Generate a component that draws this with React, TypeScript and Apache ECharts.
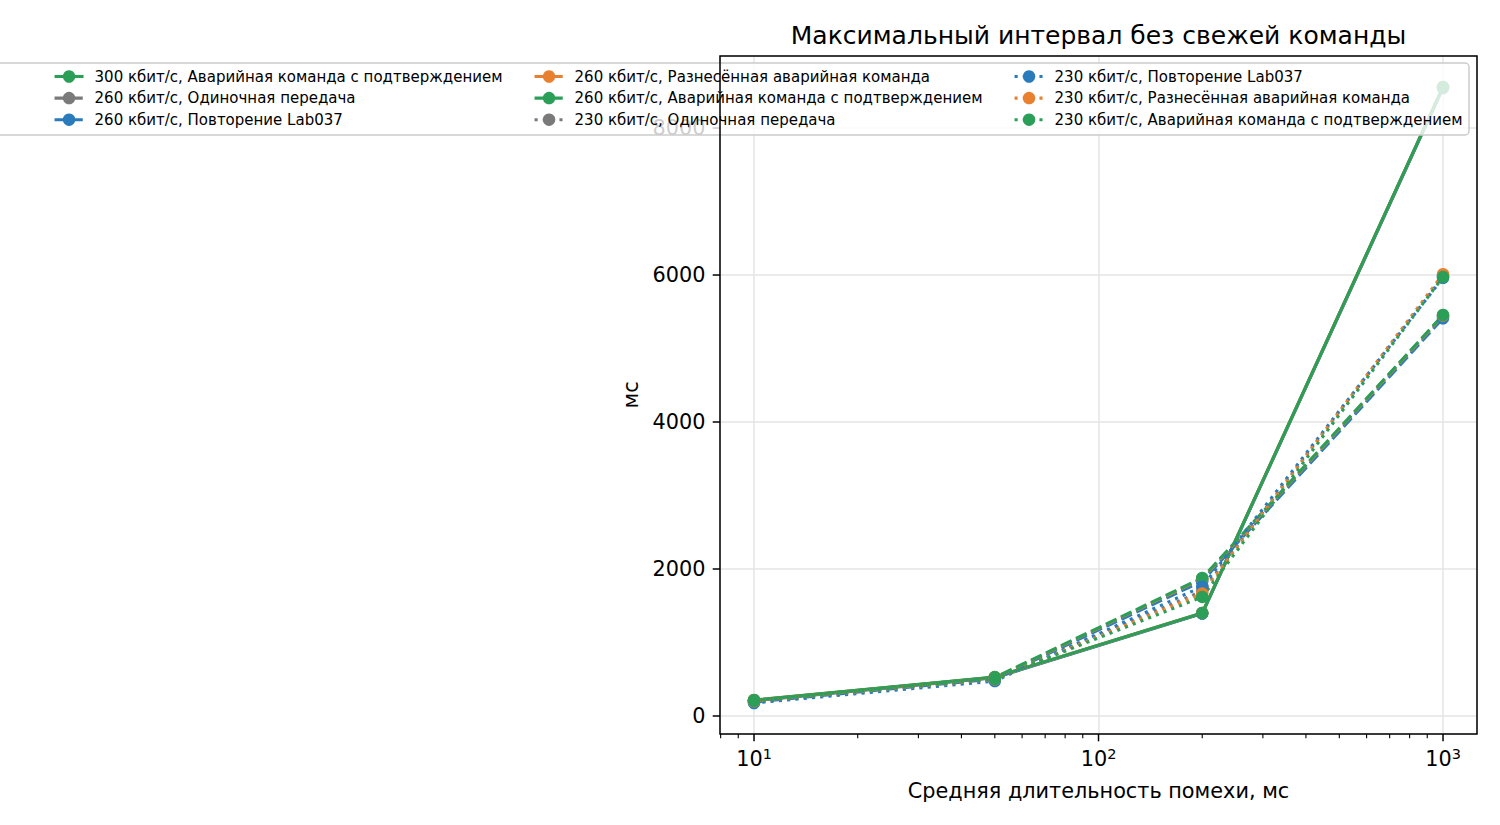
import React, { useEffect, useRef } from "react";
import * as echarts from "echarts";

const FONT = '"DejaVu Sans", "Noto Sans", sans-serif';

const TITLE = "Максимальный интервал без свежей команды";
const X_NAME = "Средняя длительность помехи, мс";
const Y_NAME = "мс";

// x values (mean noise duration, ms)
const NOISE_MS = [10, 50, 200, 1000];
const RATES = ["300 кбит/с", "260 кбит/с", "230 кбит/с"];
const STRATEGIES = [
  "Одиночная передача",
  "Повторение Lab037",
  "Разнесённая аварийная команда",
  "Аварийная команда с подтверждением",
];
const COLORS = ["#7a7a7a", "#2a7bbb", "#e8812f", "#2b9e58"];

// 300 кбит/с (solid)
const r300Single = [214, 526, 1398, 8552];
const r300Repeat = [208, 520, 1394, 8545];
const r300Spaced = [215, 528, 1402, 8556];
const r300Ack = [218, 530, 1401, 8558];
// 260 кбит/с (dashed)
const r260Single = [204, 514, 1858, 5438];
const r260Repeat = [190, 505, 1835, 5412];
const r260Spaced = [206, 520, 1868, 5448];
const r260Ack = [210, 524, 1878, 5456];
// 230 кбит/с (dotted)
const r230Single = [192, 494, 1700, 5988];
const r230Repeat = [177, 476, 1760, 5962];
const r230Spaced = [200, 500, 1665, 6012];
const r230Ack = [205, 505, 1620, 5973];

const VALUES = [
  [r300Single, r300Repeat, r300Spaced, r300Ack],
  [r260Single, r260Repeat, r260Spaced, r260Ack],
  [r230Single, r230Repeat, r230Spaced, r230Ack],
];

// axis ticks
const X_MAJOR = [10, 100, 1000];
const X_MINOR = [8, 9, 20, 30, 40, 50, 60, 70, 80, 90, 200, 300, 400, 500, 600, 700, 800, 900];
const Y_TICKS = [0, 2000, 4000, 6000, 8000];
const X_MIN = 7.966;
const X_MAX = 1255;
const Y_MIN = -245;
const Y_MAX = 8980;

const LINE_TYPES: any[] = ["solid", [11.6, 5], [3.1, 5.2]];

const GRID = { left: 720, right: 23, top: 56, bottom: 91 };
const W = 1500;
const H = 825;

export default function App() {
  const ref = useRef<HTMLDivElement>(null);

  useEffect(() => {
    if (!ref.current) return;
    const chart = echarts.init(ref.current, undefined, { renderer: "svg" });

    const series: any[] = [];
    const names: string[] = [];
    RATES.forEach((rate, ri) => {
      STRATEGIES.forEach((strat, si) => {
        const name = `${rate}, ${strat}`;
        names.push(name);
        const vals = VALUES[ri][si];
        series.push({
          type: "line",
          name,
          data: NOISE_MS.map((x, i) => [x, vals[i]]),
          symbol: "circle",
          symbolSize: 12.5,
          showSymbol: true,
          lineStyle: { color: COLORS[si], width: 3.1, type: LINE_TYPES[ri], cap: "butt" },
          itemStyle: { color: COLORS[si], borderWidth: 0 },
          emphasis: { disabled: true },
          z: 2,
        });
      });
    });

    // tick marks drawn through the axes' scales
    series.push({
      type: "custom",
      coordinateSystem: "cartesian2d",
      silent: true,
      clip: false,
      z: 3,
      encode: { x: 0, y: 1 },
      data: [
        ...X_MAJOR.map((v) => [v, Y_MIN, 1]),
        ...X_MINOR.map((v) => [v, Y_MIN, 0]),
      ],
      renderItem: (params: any, api: any) => {
        const p = api.coord([api.value(0), api.value(1)]);
        const major = api.value(2) === 1;
        return {
          type: "line",
          shape: { x1: p[0], y1: p[1], x2: p[0], y2: p[1] + (major ? 7.3 : 4.2) },
          style: { stroke: "#000", lineWidth: major ? 1.5 : 1.1 },
        };
      },
    });
    series.push({
      type: "custom",
      coordinateSystem: "cartesian2d",
      silent: true,
      clip: false,
      z: 3,
      encode: { x: 0, y: 1 },
      data: Y_TICKS.map((v) => [X_MIN, v]),
      renderItem: (params: any, api: any) => {
        const p = api.coord([api.value(0), api.value(1)]);
        return {
          type: "line",
          shape: { x1: p[0] - 7.3, y1: p[1], x2: p[0], y2: p[1] },
          style: { stroke: "#000", lineWidth: 1.5 },
        };
      },
    });

    const legendCols = [0, 1, 2, 3].map((c) => names.slice(c * 3, c * 3 + 3));
    const legends = legendCols.map((data, i) => ({
      orient: "vertical",
      left: -427 + 480 * i,
      top: 69,
      padding: 0,
      itemWidth: 29,
      itemHeight: 15.6,
      itemGap: 6.6,
      selectedMode: false,
      data,
      lineStyle: { width: 3.1 },
      textStyle: { fontFamily: FONT, fontSize: 15, color: "#000", padding: [0, 0, 0, 6] },
      z: 10,
    }));

    const option: any = {
      animation: false,
      backgroundColor: "#fff",
      grid: {
        ...GRID,
        show: false,
        containLabel: false,
        outerBoundsMode: "none",
      },
      xAxis: {
        type: "log",
        logBase: 10,
        min: X_MIN,
        max: X_MAX,
        axisLine: { show: false },
        axisTick: { show: false },
        minorTick: { show: false },
        splitLine: { show: true, lineStyle: { color: "#e4e4e4", width: 1.5 } },
        axisLabel: {
          margin: 12,
          color: "#000",
          showMinLabel: true,
          showMaxLabel: true,
          formatter: (v: number) => {
            const e = Math.log10(v);
            const r = Math.round(e);
            if (Math.abs(e - r) < 1e-6 && X_MAJOR.includes(Math.pow(10, r))) {
              return `{b|10}{s|${r}}`;
            }
            return "";
          },
          rich: {
            b: { fontFamily: FONT, fontSize: 20.8, color: "#000" },
            s: { fontFamily: FONT, fontSize: 14.5, color: "#000", padding: [0, 0, 11, 0] },
          },
        },
        name: X_NAME,
        nameLocation: "middle",
        nameGap: 46,
        nameTextStyle: { fontFamily: FONT, fontSize: 20.8, color: "#000" },
      },
      yAxis: {
        type: "value",
        min: Y_MIN,
        max: Y_MAX,
        axisLine: { show: false },
        axisTick: { show: false },
        splitLine: { show: true, lineStyle: { color: "#e4e4e4", width: 1.5 } },
        axisLabel: {
          margin: 14.6,
          color: "#000",
          fontFamily: FONT,
          fontSize: 20.8,
          showMinLabel: true,
          showMaxLabel: true,
          formatter: (v: number) => (Y_TICKS.includes(v) ? String(v) : ""),
        },
        name: Y_NAME,
        nameLocation: "middle",
        nameGap: 76,
        nameTextStyle: { fontFamily: FONT, fontSize: 20.8, color: "#000" },
      },
      legend: legends,
      graphic: {
        elements: [
          {
            // legend frame
            type: "rect",
            silent: true,
            z: 4,
            shape: { x: -20, y: 63, width: 1489, height: 72, r: 4 },
            style: { fill: "rgba(255,255,255,0.8)", stroke: "#cccccc", lineWidth: 1.5 },
          },
          {
            // axes frame (spines)
            type: "rect",
            silent: true,
            z: 5,
            shape: {
              x: GRID.left,
              y: GRID.top,
              width: W - GRID.left - GRID.right,
              height: H - GRID.top - GRID.bottom,
            },
            style: { fill: "none", stroke: "#000", lineWidth: 1.5 },
          },
          {
            type: "text",
            silent: true,
            z: 5,
            x: 1098.5,
            y: 35,
            style: {
              text: TITLE,
              fontFamily: FONT,
              fontSize: 25,
              fill: "#000",
              align: "center",
              verticalAlign: "middle",
            },
          },
        ],
      },
      series,
    };

    chart.setOption(option);
    return () => chart.dispose();
  }, []);

  return (
    <div
      ref={ref}
      style={{ position: "absolute", left: 0, top: 0, width: W, height: H, background: "#fff" }}
    />
  );
}
